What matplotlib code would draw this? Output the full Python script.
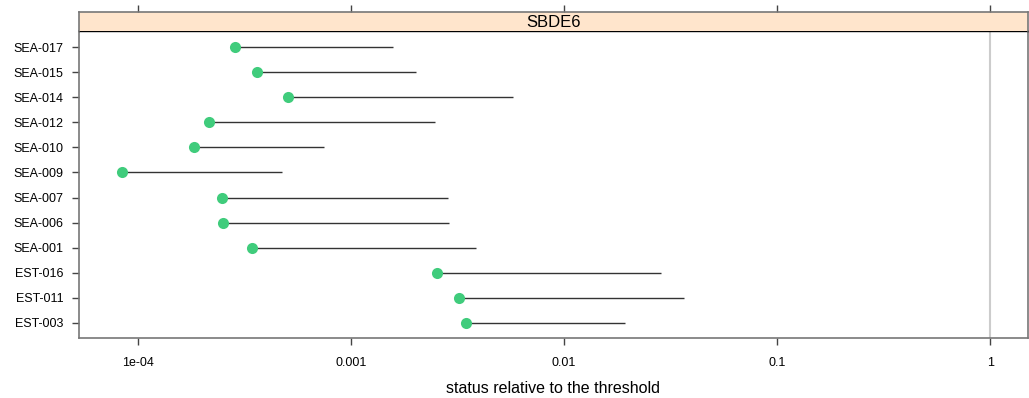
import numpy as np
import matplotlib.pyplot as plt

plt.rcParams['font.family'] = ['Liberation Sans', 'DejaVu Sans']

# sites, bottom to top
sites = ['EST-003', 'EST-011', 'EST-016', 'SEA-001', 'SEA-006', 'SEA-007',
         'SEA-009', 'SEA-010', 'SEA-012', 'SEA-014', 'SEA-015', 'SEA-017']
status_low = [3.45e-3, 3.2e-3, 2.52e-3, 3.42e-4, 2.5e-4, 2.48e-4,
              8.4e-5, 1.83e-4, 2.15e-4, 5.05e-4, 3.61e-4, 2.85e-4]
status_high = [1.94e-2, 3.67e-2, 2.86e-2, 3.88e-3, 2.87e-3, 2.84e-3,
               4.73e-4, 7.45e-4, 2.47e-3, 5.73e-3, 2.01e-3, 1.58e-3]
panel = 'SBDE6'
tick_vals = [1e-4, 1e-3, 1e-2, 1e-1, 1]
tick_labels = ['1e-04', '0.001', '0.01', '0.1', '1']

W, H = 1029, 398
fig = plt.figure(figsize=(W / 100, H / 100), dpi=100)
ax = fig.add_axes([79 / W, 1 - 338 / H, (1028 - 79) / W, (338 - 31) / H])
strip = fig.add_axes([79 / W, 1 - 31 / H, (1028 - 79) / W, 19 / H])

xlim = (10 ** -4.277, 10 ** 0.178)
y = np.arange(len(sites))

ax.axvline(1, color='#cccccc', lw=1.5, zorder=1)
ax.hlines(y, status_low, status_high, color='#333333', lw=1.0, zorder=2)
ax.plot(status_low, y, 'o', color='#40cc7c', ms=8, mec='none', zorder=3)

ax.set_xscale('log')
ax.set_xlim(*xlim)
ax.set_ylim(-0.6, len(sites) - 0.36)
ax.set_yticks(y)
ax.set_yticklabels(sites, fontsize=9)
ax.set_xticks(tick_vals)
ax.set_xticklabels(tick_labels, fontsize=9)
ax.minorticks_off()
ax.tick_params(axis='x', which='minor', bottom=False)
ax.tick_params(direction='out', length=5, width=1, color='#444444', pad=6)
ax.tick_params(axis='x', pad=9)
for s in ax.spines.values():
    s.set_color('#777777')
    s.set_linewidth(1.2)
ax.spines['top'].set_color('black')
ax.spines['top'].set_linewidth(1)
ax.set_xlabel('status relative to the threshold', fontsize=11.5, labelpad=8)

strip.set_facecolor('#ffe5cc')
strip.set_xscale('log')
strip.set_xlim(*xlim)
strip.set_ylim(0, 1)
strip.set_yticks([])
strip.set_xticks(tick_vals)
strip.minorticks_off()
strip.tick_params(axis='x', which='both', bottom=False, top=True,
                  labelbottom=False, direction='out', length=5, width=1, color='#444444')
for s in strip.spines.values():
    s.set_color('#777777')
    s.set_linewidth(1.2)
strip.spines['bottom'].set_visible(False)
strip.text(0.5, 0.45, panel, transform=strip.transAxes, ha='center', va='center', fontsize=12)

fig.savefig('out.png', dpi=100)
